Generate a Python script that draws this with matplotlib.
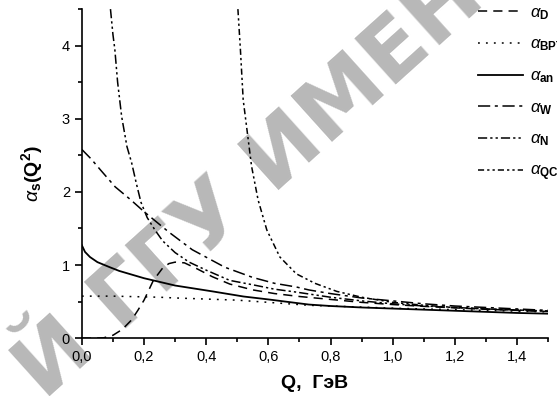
import matplotlib
matplotlib.use("Agg")
import matplotlib.pyplot as plt
from matplotlib.ticker import MultipleLocator

plt.rcParams['font.family'] = ['Liberation Sans', 'DejaVu Sans']
plt.rcParams['mathtext.fontset'] = 'custom'
plt.rcParams['mathtext.rm'] = 'Liberation Sans'
plt.rcParams['mathtext.it'] = 'Liberation Sans:italic'
plt.rcParams['mathtext.bf'] = 'Liberation Sans:bold'

# values
q_d = [0.0, 0.04, 0.07, 0.1, 0.13, 0.16, 0.18, 0.2, 0.23, 0.26, 0.28, 0.3, 0.33, 0.37,
       0.42, 0.476, 0.55, 0.62, 0.7, 0.8, 0.9, 1.0, 1.1, 1.2, 1.3, 1.4, 1.5]
a_d = [0.0, 0.0, 0.005, 0.04, 0.12, 0.25, 0.38, 0.52, 0.79, 0.96, 1.02, 1.04, 1.03, 0.95,
       0.84, 0.74, 0.66, 0.61, 0.57, 0.53, 0.49, 0.46, 0.435, 0.415, 0.395, 0.38, 0.365]

q_bpt = [0.0, 0.1, 0.2, 0.25, 0.3, 0.4, 0.5, 0.6, 0.73, 0.8, 0.9, 1.0, 1.1, 1.2, 1.3, 1.4, 1.5]
a_bpt = [0.575, 0.575, 0.565, 0.56, 0.55, 0.535, 0.52, 0.49, 0.45, 0.44, 0.425, 0.41, 0.40,
         0.39, 0.38, 0.37, 0.36]

q_an = [0.0, 0.01, 0.026, 0.05, 0.09, 0.12, 0.16, 0.2, 0.25, 0.3, 0.36, 0.42, 0.52, 0.6,
        0.73, 0.8, 0.9, 1.0, 1.1, 1.2, 1.3, 1.4, 1.5]
a_an = [1.27, 1.18, 1.11, 1.04, 0.97, 0.92, 0.87, 0.82, 0.77, 0.72, 0.68, 0.64, 0.57, 0.53,
        0.46, 0.44, 0.42, 0.405, 0.39, 0.375, 0.36, 0.345, 0.335]

q_w = [0.0, 0.03, 0.06, 0.107, 0.155, 0.2, 0.28, 0.355, 0.46, 0.55, 0.62, 0.69, 0.73, 0.8,
       0.9, 1.0, 1.1, 1.2, 1.3, 1.4, 1.5]
a_w = [2.58, 2.45, 2.3, 2.07, 1.9, 1.73, 1.45, 1.21, 0.97, 0.83, 0.75, 0.70, 0.66, 0.61,
       0.55, 0.51, 0.47, 0.44, 0.42, 0.40, 0.38]

q_n = [0.092, 0.1, 0.106, 0.115, 0.128, 0.145, 0.16, 0.175, 0.19, 0.21, 0.235, 0.26, 0.3,
       0.345, 0.4, 0.476, 0.55, 0.62, 0.69, 0.8, 0.9, 1.0, 1.1, 1.2, 1.3, 1.4, 1.5]
a_n = [4.5, 4.15, 3.95, 3.5, 3.03, 2.62, 2.40, 2.12, 1.86, 1.65, 1.48, 1.33, 1.17,
       1.04, 0.93, 0.79, 0.73, 0.67, 0.63, 0.56, 0.51, 0.47, 0.44, 0.42, 0.40, 0.385, 0.37]

q_qcd = [0.502, 0.51, 0.519, 0.53, 0.546, 0.567, 0.595, 0.637, 0.69, 0.75, 0.82, 0.9, 1.0,
         1.1, 1.2, 1.3, 1.4, 1.5]
a_qcd = [4.5, 3.95, 3.26, 2.89, 2.35, 1.89, 1.48, 1.11, 0.88, 0.75, 0.64, 0.56, 0.49,
         0.45, 0.42, 0.40, 0.385, 0.37]

xticks = [0.0, 0.2, 0.4, 0.6, 0.8, 1.0, 1.2, 1.4]
xticklabels = ['0,0', '0,2', '0,4', '0,6', '0,8', '1,0', '1,2', '1,4']
yticks = [0, 1, 2, 3, 4]

fig = plt.figure(figsize=(5.57, 3.96), dpi=100)
ax = fig.add_axes([0.147, 0.146, 0.837, 0.831])
ax.set_zorder(1)
ax.set_facecolor('none')

# watermark, kept under the axes
fig.text(45 / 557, -6 / 396, 'Й ГГУ ИМЕНИ', fontsize=62, fontweight='bold',
         family='DejaVu Sans', color='#b8b8b8', rotation=42, rotation_mode='anchor',
         ha='left', va='baseline', zorder=0)

lw = 1.1
ax.plot(q_d, a_d, color='black', lw=lw, dashes=(6, 4), label=r'$\alpha_{\mathbf{D}}$')
ax.plot(q_bpt, a_bpt, color='black', lw=lw, dashes=(1.2, 4), label=r'$\alpha_{\mathbf{BPT}}$')
ax.plot(q_an, a_an, color='black', lw=1.3, label=r'$\alpha_{\mathbf{an}}$')
ax.plot(q_w, a_w, color='black', lw=lw, dashes=(8, 3, 2, 3), label=r'$\alpha_{\mathbf{W}}$')
ax.plot(q_n, a_n, color='black', lw=lw, dashes=(6, 2, 1.5, 2, 1.5, 2), label=r'$\alpha_{\mathbf{N}}$')
ax.plot(q_qcd, a_qcd, color='black', lw=lw, dashes=(4, 2, 1.5, 2, 1.5, 2),
        label=r'$\alpha_{\mathbf{QCD}}$')

ax.set_xlim(0, 1.5)
ax.set_ylim(0, 4.5)
ax.set_xticks(xticks)
ax.set_xticklabels(xticklabels)
ax.set_yticks(yticks)
ax.xaxis.set_minor_locator(MultipleLocator(0.1))
ax.yaxis.set_minor_locator(MultipleLocator(0.5))
ax.spines['top'].set_visible(False)
ax.spines['right'].set_visible(False)
ax.spines['left'].set_linewidth(1.2)
ax.spines['bottom'].set_linewidth(1.2)
ax.tick_params(which='major', direction='out', length=5, width=1.2, labelsize=10.5)
ax.tick_params(which='minor', direction='out', length=3, width=1.2)

ax.set_xlabel('Q,  ГэВ', fontsize=14, fontweight='bold', labelpad=8)
ax.set_ylabel(r'$\alpha_{\mathbf{s}}\mathbf{(Q^{2})}$', fontsize=14, labelpad=12)

fig.legend(loc='upper left', bbox_to_anchor=(478 / 557, 1 - 5 / 396), frameon=False,
           fontsize=12, handlelength=2.7, handletextpad=0.4, labelspacing=0.9,
           borderpad=0, borderaxespad=0)

fig.savefig('out.png', dpi=100)
